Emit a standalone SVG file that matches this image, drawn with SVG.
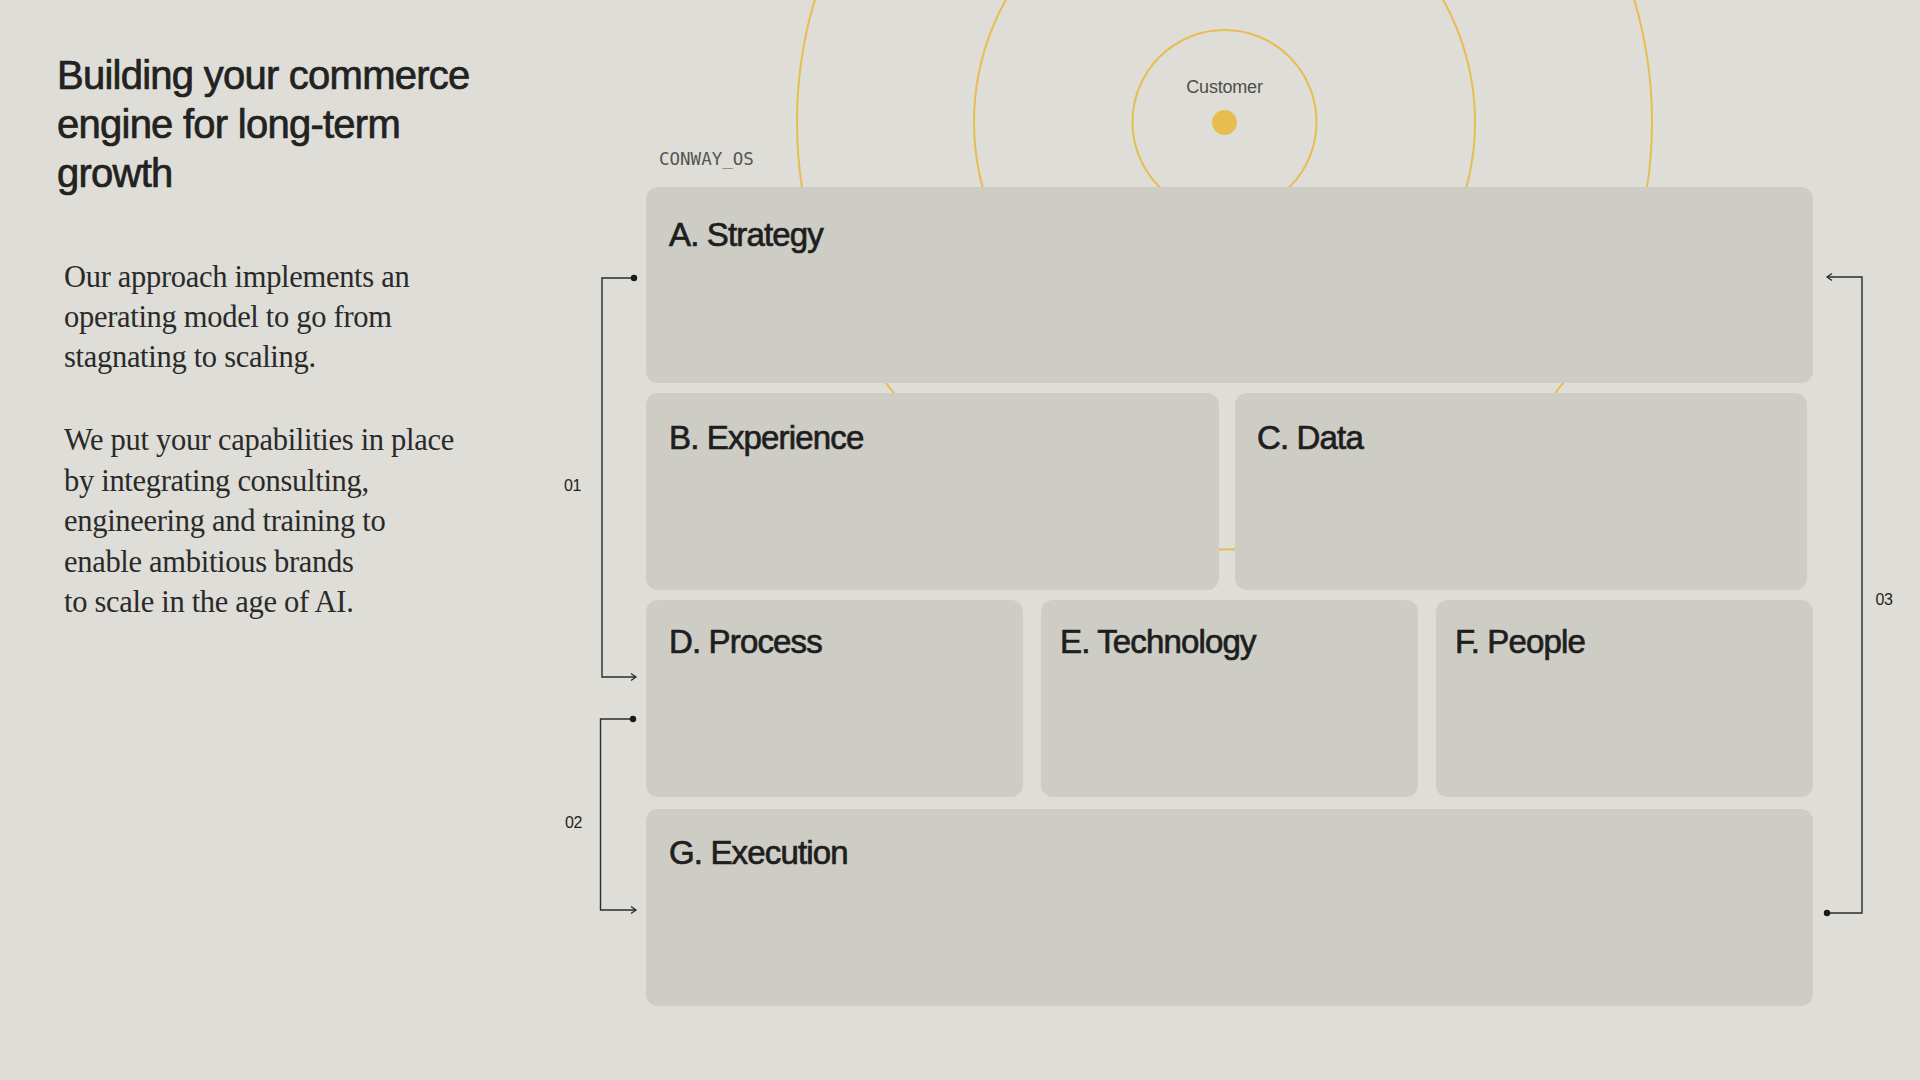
<svg xmlns="http://www.w3.org/2000/svg" width="1920" height="1080" viewBox="0 0 1920 1080">
<defs>
<style>
.bg{fill:#deddd8}
.ring{fill:none;stroke:#e8bd50;stroke-width:2}
.box{fill:#cdccc5}
.title{font-family:"Liberation Sans",Arial,sans-serif;font-size:40px;fill:#222220;stroke:#222220;stroke-width:0.7;letter-spacing:-0.75px}
.body{font-family:"Liberation Serif","Times New Roman",serif;font-size:30.5px;fill:#2a2a28;letter-spacing:-0.3px}
.lbl{font-family:"Liberation Sans",Arial,sans-serif;font-size:33px;fill:#1e1e1e;stroke:#1e1e1e;stroke-width:0.7;letter-spacing:-0.85px}
.mono{font-family:"DejaVu Sans Mono","Liberation Mono",monospace;font-size:17.5px;fill:#555552}
.num{font-family:"Liberation Sans",Arial,sans-serif;font-size:16px;fill:#222;text-anchor:middle;letter-spacing:-0.4px}
.cust{font-family:"Liberation Sans",Arial,sans-serif;font-size:18px;fill:#4e4d4a;text-anchor:middle;letter-spacing:-0.2px}
.conn{fill:none;stroke:#2b2b2b;stroke-width:1.4}
</style>
<marker id="dot" viewBox="-4 -4 8 8" refX="0" refY="0" markerWidth="8" markerHeight="8" markerUnits="userSpaceOnUse" orient="auto">
<circle cx="0" cy="0" r="3.2" fill="#1a1a1a"/>
</marker>
<marker id="arr" viewBox="-8 -5 10 10" refX="0" refY="0" markerWidth="10" markerHeight="10" markerUnits="userSpaceOnUse" orient="auto">
<path d="M-5,-3.5 L0,0 L-5,3.5" fill="none" stroke="#2b2b2b" stroke-width="1.3"/>
</marker>
</defs>
<rect class="bg" x="0" y="0" width="1920" height="1080"/>

<g id="rings">
<circle class="ring" cx="1224.5" cy="122" r="427.5"/>
<circle class="ring" cx="1224.5" cy="122" r="250.5"/>
<circle class="ring" cx="1224.5" cy="122" r="92"/>
<circle cx="1224.5" cy="122.5" r="12.5" fill="#e8bd50"/>
</g>
<g id="customer">
<text class="cust" x="1224.5" y="93">Customer</text>
</g>

<g id="heading">
<text class="title" x="57" y="89">Building your commerce</text>
<text class="title" x="57" y="138">engine for long-term</text>
<text class="title" x="57" y="187">growth</text>
</g>

<g id="intro">
<text class="body" x="64" y="287">Our approach implements an</text>
<text class="body" x="64" y="327">operating model to go from</text>
<text class="body" x="64" y="367">stagnating to scaling.</text>
<text class="body" x="64" y="450">We put your capabilities in place</text>
<text class="body" x="64" y="490.5">by integrating consulting,</text>
<text class="body" x="64" y="531">engineering and training to</text>
<text class="body" x="64" y="571.5">enable ambitious brands</text>
<text class="body" x="64" y="612">to scale in the age of AI.</text>
</g>

<text class="mono" x="659" y="165">CONWAY_OS</text>

<g id="node-a">
<rect class="box" x="646" y="187" width="1167" height="196" rx="12"/>
<text class="lbl" x="669" y="246">A. Strategy</text>
</g>
<g id="node-b">
<rect class="box" x="646" y="393" width="573" height="197" rx="12"/>
<text class="lbl" x="669" y="449">B. Experience</text>
</g>
<g id="node-c">
<rect class="box" x="1235" y="393" width="572" height="197" rx="12"/>
<text class="lbl" x="1257" y="449">C. Data</text>
</g>
<g id="node-d">
<rect class="box" x="646" y="600" width="377" height="197" rx="12"/>
<text class="lbl" x="669" y="653">D. Process</text>
</g>
<g id="node-e">
<rect class="box" x="1041" y="600" width="377" height="197" rx="12"/>
<text class="lbl" x="1060" y="653">E. Technology</text>
</g>
<g id="node-f">
<rect class="box" x="1436" y="600" width="377" height="197" rx="12"/>
<text class="lbl" x="1455" y="653">F. People</text>
</g>
<g id="node-g">
<rect class="box" x="646" y="809" width="1167" height="197" rx="12"/>
<text class="lbl" x="669" y="864">G. Execution</text>
</g>

<g id="connectors">
<path class="conn" d="M634,278 H602 V677 H636" marker-start="url(#dot)" marker-end="url(#arr)"/>
<path class="conn" d="M633,719 H600.5 V910 H636" marker-start="url(#dot)" marker-end="url(#arr)"/>
<path class="conn" d="M1827,913 H1862 V277 H1827" marker-start="url(#dot)" marker-end="url(#arr)"/>
<text class="num" x="572.5" y="490.5">01</text>
<text class="num" x="573.5" y="828">02</text>
<text class="num" x="1884" y="604.5">03</text>
</g>
</svg>
